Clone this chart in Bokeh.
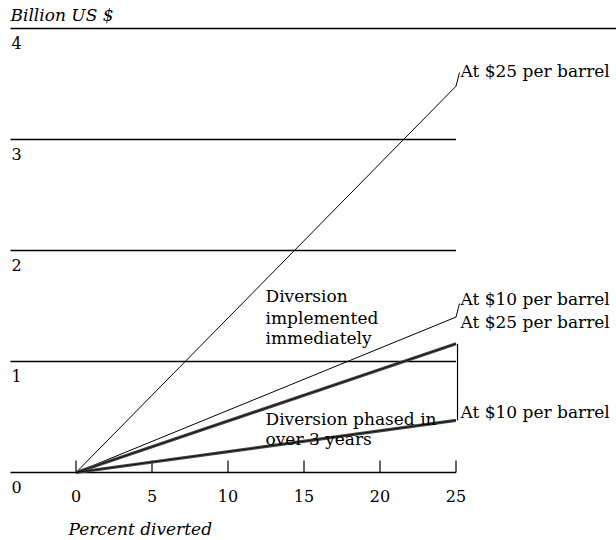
from bokeh.plotting import figure
from bokeh.models import Range1d
from bokeh.core.properties import value
from bokeh.embed import file_html
from bokeh.resources import INLINE

# ---- data ----
pct = [0, 25]
imm_25 = [0, 3.48]    # diversion implemented immediately, $25/barrel
imm_10 = [0, 1.40]    # diversion implemented immediately, $10/barrel
ph_25 = [0, 1.16]     # phased in over 3 years, $25/barrel
ph_10 = [0, 0.47]     # phased in over 3 years, $10/barrel
x_ticks = [0, 5, 10, 15, 20, 25]
x_tick_labels = ["0", "5", "10", "15", "20", "25"]
y_ticks = [0, 1, 2, 3, 4]
y_tick_labels = ["0", "1", "2", "3", "4"]

W, H = 616, 540
X0, XS = 75.5, 15.2   # canvas px of x=0, px per unit
Y0, YS = 472.0, 111.0  # canvas px of y=0, px per unit

def dx(px):  # canvas px -> data x
    return (px - X0) / XS

def dy(py):  # canvas py -> data y
    return (Y0 - py) / YS

p = figure(width=W, height=H, output_backend="svg", toolbar_location=None,
           x_range=Range1d(-X0 / XS, (W - X0) / XS),
           y_range=Range1d(-(H - Y0) / YS, Y0 / YS),
           min_border=0)
p.axis.visible = False
p.grid.visible = False
p.outline_line_color = None
p.background_fill_color = "white"
p.border_fill_color = "white"

SERIF = value("DejaVu Serif")
FS = "17px"
TFS = "16px"

# horizontal rules
left = dx(10)
for yv in y_ticks:
    right = dx(616) if yv == y_ticks[-1] else 25
    p.line([left, right], [yv, yv], line_color="black", line_width=1.4)

# upward ticks on baseline
tick_len = 12 / YS
p.segment(x0=x_ticks, y0=[0] * len(x_ticks), x1=x_ticks, y1=[tick_len] * len(x_ticks),
          line_color="black", line_width=1.2)

# tick labels
p.text(x=x_ticks, y=[dy(495)] * len(x_ticks), text=x_tick_labels, text_font=SERIF,
       text_font_size=TFS, text_align="center", text_baseline="middle", text_color="black")
p.text(x=[dx(11)] * len(y_ticks), y=[v - 14 / YS for v in y_ticks], text=y_tick_labels,
       text_font=SERIF, text_font_size=TFS, text_align="left", text_baseline="middle",
       text_color="black")

# series lines
p.line(pct, imm_25, line_color="black", line_width=1)
p.line(pct, imm_10, line_color="black", line_width=1)
p.line(pct, ph_25, line_color="#4a4a4a", line_width=3.2)
p.line(pct, ph_10, line_color="#4a4a4a", line_width=3.2)
p.line(pct, ph_25, line_color="black", line_width=0.8)
p.line(pct, ph_10, line_color="black", line_width=0.8)

# bracket joining phased-in end points
p.line([pct[-1] + 0.1, pct[-1] + 0.1], [ph_25[-1], ph_10[-1]], line_color="black", line_width=1.2)

# small leaders to labels
p.line([pct[-1], dx(459)], [imm_25[-1], dy(72)], line_color="black", line_width=1)
p.line([pct[-1], dx(459)], [imm_10[-1], dy(303)], line_color="black", line_width=1)

# labels
p.text(x=[dx(460)] * 4, y=[dy(70), dy(298), dy(321), dy(411)],
       text=["At $25 per barrel", "At $10 per barrel", "At $25 per barrel", "At $10 per barrel"],
       text_font=SERIF, text_font_size=FS, text_align="left", text_baseline="middle",
       text_color="black")
p.text(x=[dx(265)] * 3, y=[dy(295), dy(317), dy(337)],
       text=["Diversion", "implemented", "immediately"],
       text_font=SERIF, text_font_size=FS, text_align="left", text_baseline="middle",
       text_color="black")
p.text(x=[dx(265)] * 2, y=[dy(418), dy(438)],
       text=["Diversion phased in", "over 3 years"],
       text_font=SERIF, text_font_size=FS, text_align="left", text_baseline="middle",
       text_color="black")

# axis titles
p.text(x=[dx(10)], y=[dy(14)], text=["Billion US $"], text_font=SERIF, text_font_size=FS,
       text_font_style="italic", text_align="left", text_baseline="middle", text_color="black")
p.text(x=[dx(68)], y=[dy(528)], text=["Percent diverted"], text_font=SERIF, text_font_size=FS,
       text_font_style="italic", text_align="left", text_baseline="middle", text_color="black")

open("out.html", "w").write(file_html(p, INLINE))
